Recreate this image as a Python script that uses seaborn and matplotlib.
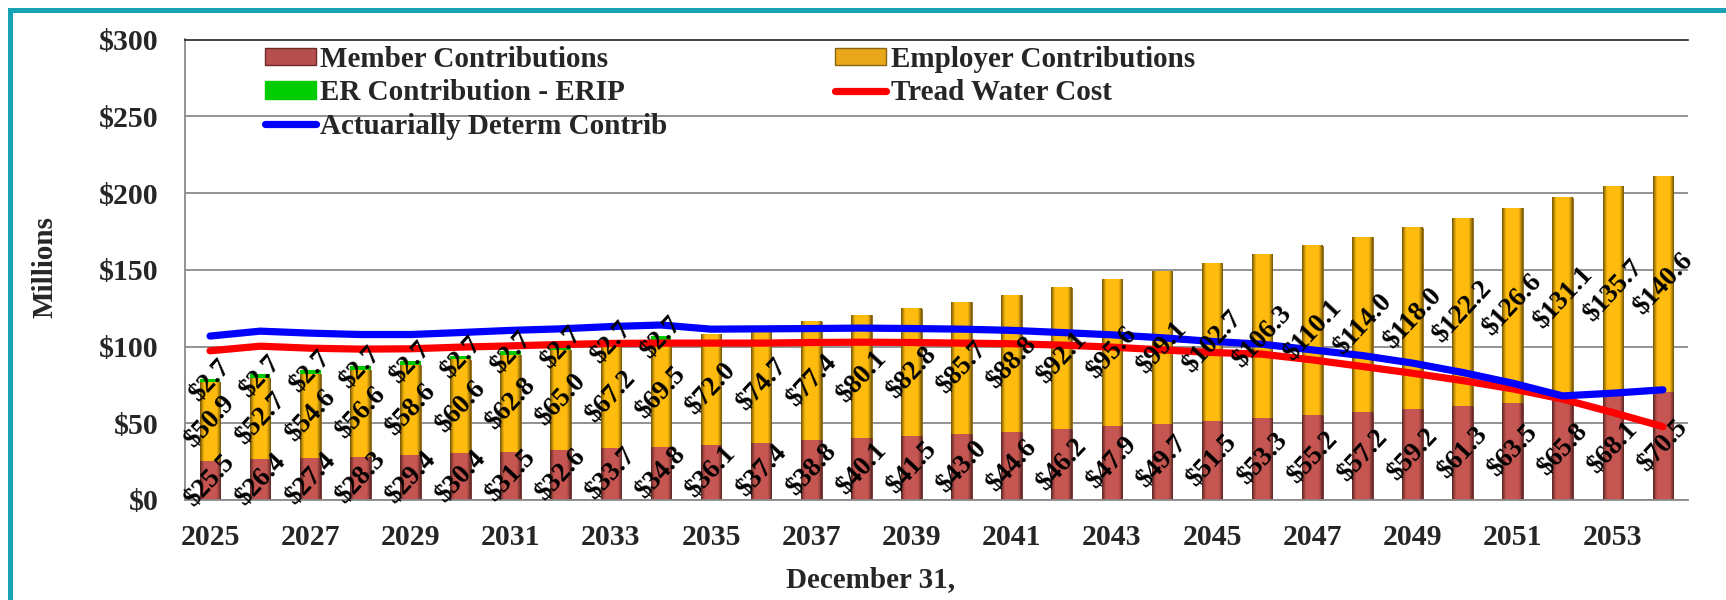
import numpy as np
import pandas as pd
import seaborn as sns
import matplotlib.pyplot as plt
from matplotlib.patches import Rectangle, Patch
from matplotlib.lines import Line2D

# values ($ millions)
years = [2025, 2026, 2027, 2028, 2029, 2030, 2031, 2032, 2033, 2034,
         2035, 2036, 2037, 2038, 2039, 2040, 2041, 2042, 2043, 2044,
         2045, 2046, 2047, 2048, 2049, 2050, 2051, 2052, 2053, 2054]
member = [25.5, 26.4, 27.4, 28.3, 29.4, 30.4, 31.5, 32.6, 33.7, 34.8,
          36.1, 37.4, 38.8, 40.1, 41.5, 43.0, 44.6, 46.2, 47.9, 49.7,
          51.5, 53.3, 55.2, 57.2, 59.2, 61.3, 63.5, 65.8, 68.1, 70.5]
employer = [50.9, 52.7, 54.6, 56.6, 58.6, 60.6, 62.8, 65.0, 67.2, 69.5,
            72.0, 74.7, 77.4, 80.1, 82.8, 85.7, 88.8, 92.1, 95.6, 99.1,
            102.7, 106.3, 110.1, 114.0, 118.0, 122.2, 126.6, 131.1, 135.7, 140.6]
erip = [2.7, 2.7, 2.7, 2.7, 2.7, 2.7, 2.7, 2.7, 2.7, 2.7,
        0, 0, 0, 0, 0, 0, 0, 0, 0, 0,
        0, 0, 0, 0, 0, 0, 0, 0, 0, 0]
tread = [97.2, 100.2, 98.9, 98.3, 98.5, 99.6, 100.4, 101.3, 102.0, 102.2,
         102.2, 102.2, 102.6, 102.8, 102.6, 102.2, 101.8, 100.9, 99.6, 97.8,
         96.1, 95.0, 91.3, 87.0, 82.6, 77.8, 72.4, 65.7, 57.0, 47.8]
adc = [106.8, 110.0, 108.7, 107.8, 107.8, 109.1, 110.5, 111.5, 113.0, 114.0,
       111.3, 111.5, 111.7, 112.0, 111.7, 111.3, 110.5, 109.1, 107.6, 105.7,
       103.3, 101.5, 97.8, 94.1, 89.2, 83.1, 76.1, 67.8, 69.6, 71.8]
yticks = [0, 50, 100, 150, 200, 250, 300]

df = pd.DataFrame({"year": years, "member": member, "employer": employer,
                   "erip": erip, "tread": tread, "adc": adc})
df["base_erip"] = df["member"] + df["employer"]

sns.set_theme(style="white")
plt.rcParams["font.family"] = ["Liberation Serif", "DejaVu Serif"]
plt.rcParams["font.weight"] = "bold"

GOLD = (1.0, 0.74, 0.06)
RED = (0.78, 0.34, 0.32)
GRID = "#8a8a8a"

fig = plt.figure(figsize=(17.26, 6), dpi=100)
ax = fig.add_axes([185 / 1726, 100 / 600, 1503 / 1726, 460.5 / 600])

bw = 0.41
sns.barplot(data=df, x="year", y="member", color=RED, saturation=1, width=bw,
            errorbar=None, edgecolor="#6e2826", linewidth=0.6, ax=ax, zorder=2)
sns.barplot(data=df, x="year", y="employer", bottom=df["member"], color=GOLD,
            saturation=1, width=bw, errorbar=None, edgecolor="#8a6410",
            linewidth=0.6, ax=ax, zorder=2)
sns.barplot(data=df, x="year", y="erip", bottom=df["base_erip"], color="#00cc00",
            saturation=1, width=bw, errorbar=None, linewidth=0, ax=ax, zorder=2)


# fake the bevelled look with a horizontal gradient on each bar
def shade(container, rgb):
    t = np.linspace(0, 1, 64)
    f = 0.45 + 0.55 * np.clip(np.sin(np.pi * t) * 1.7, 0, 1)
    grad = np.clip(np.outer(f, rgb), 0, 1)[None, :, :]
    for p in container:
        if p.get_height() <= 0:
            continue
        x0, y0 = p.get_x(), p.get_y()
        ax.imshow(grad, extent=[x0, x0 + p.get_width(), y0, y0 + p.get_height()],
                  aspect="auto", interpolation="bilinear", zorder=2.5)


shade(ax.containers[0], RED)
shade(ax.containers[1], GOLD)

pos = np.arange(len(years))
sns.lineplot(x=pos, y=df["tread"], color="#ff0000", linewidth=5.2,
             solid_capstyle="round", ax=ax, zorder=4)
sns.lineplot(x=pos, y=df["adc"], color="#0000ff", linewidth=5.2,
             solid_capstyle="round", ax=ax, zorder=4)

# data labels, centred in each segment
lab_kw = dict(rotation=47, rotation_mode="anchor", ha="center", va="center",
              fontsize=19.5, fontweight="bold", color="black", zorder=6)
for i in range(len(years)):
    ax.text(i, member[i] / 2, f"${member[i]:.1f}", **lab_kw)
    ax.text(i, member[i] + employer[i] / 2, f"${employer[i]:.1f}", **lab_kw)
    if erip[i] > 0:
        ax.text(i, member[i] + employer[i] + erip[i] / 2, f"${erip[i]:.1f}", **lab_kw)

ax.set_xlim(-0.5, len(years) - 0.5)
ax.set_ylim(yticks[0], yticks[-1])
ax.set_yticks(yticks)
ax.set_yticklabels([f"${v}" for v in yticks])
ax.set_xticks(pos[::2])
ax.set_xticklabels([str(y) for y in years[::2]])
ax.set_xticks(np.arange(-0.5, len(years), 1), minor=True)

ax.grid(axis="y", color=GRID, linewidth=1.3, zorder=0)
ax.set_axisbelow(True)
for s in ["left", "bottom"]:
    ax.spines[s].set_color(GRID)
    ax.spines[s].set_linewidth(1.3)
ax.spines["right"].set_visible(False)
ax.spines["top"].set_color("#222222")
ax.spines["top"].set_linewidth(1.2)

ax.tick_params(axis="y", length=7, width=1.2, color=GRID, direction="out",
               pad=12, labelsize=21.5)
ax.tick_params(axis="x", which="major", length=0, pad=17, labelsize=21.5)
ax.tick_params(axis="x", which="minor", length=6.5, width=1.2, color=GRID,
               direction="out")
for lab in ax.get_xticklabels() + ax.get_yticklabels():
    lab.set_fontweight("bold")

ax.set_xlabel("December 31,", fontsize=21, fontweight="bold")
ax.set_ylabel("Millions", fontsize=21, fontweight="bold")
ax.xaxis.set_label_coords(0.456, -0.143)
ax.yaxis.set_label_coords(-0.084, 0.506)

handles = [
    Patch(facecolor="#b5504e", edgecolor="#6e2826", label="Member Contributions"),
    Patch(facecolor="#00cc00", edgecolor="#00cc00", label="ER Contribution - ERIP"),
    Line2D([], [], color="#0000ff", linewidth=5.2, solid_capstyle="round",
           label="Actuarially Determ Contrib"),
    Patch(facecolor="#e8a81a", edgecolor="#8a6410", label="Employer Contributions"),
    Line2D([], [], color="#ff0000", linewidth=5.2, solid_capstyle="round",
           label="Tread Water Cost"),
]
leg = ax.legend(handles=handles, ncol=2, loc="upper left", frameon=False,
                bbox_to_anchor=(265 / 1726, 1 - 46 / 600),
                bbox_transform=fig.transFigure, borderpad=0, borderaxespad=0,
                prop={"size": 21, "weight": "bold"}, handlelength=1.75,
                handleheight=0.55, handletextpad=0.15, labelspacing=0.22,
                columnspacing=5.75)
leg.set_zorder(7)

# teal frame, cut off at right and bottom like the reference
fig.patches.append(Rectangle((10 / 1726, -0.5), 2.0, 0.5 + 1 - 10 / 600,
                             transform=fig.transFigure, fill=False,
                             edgecolor="#17a3b4", linewidth=3.6))

fig.savefig("out.png", dpi=100)
